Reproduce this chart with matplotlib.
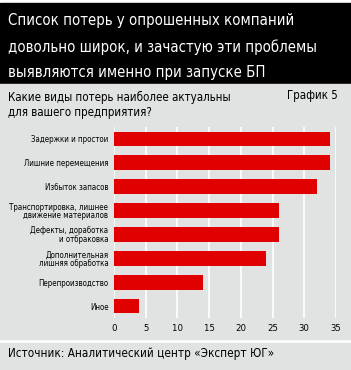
import matplotlib
matplotlib.use('Agg')
import matplotlib.pyplot as plt
from matplotlib.patches import Rectangle

plt.rcParams['font.family'] = ['DejaVu Sans']
plt.rcParams['font.stretch'] = 'condensed'

# Data
categories = ['Задержки и простои', 'Лишние перемещения', 'Избыток запасов',
              'Транспортировка, лишнее\nдвижение материалов', 'Дефекты, доработка\nи отбраковка',
              'Дополнительная\nлишняя обработка', 'Перепроизводство', 'Иное']
values = [34, 34, 32, 26, 26, 24, 14, 4]
xticks = [0, 5, 10, 15, 20, 25, 30, 35]

W, H = 351, 370
fig = plt.figure(figsize=(W / 100, H / 100), dpi=100)
fig.patch.set_facecolor('white')

def fy(py):
    return 1 - py / H

# background bands
fig.patches.append(Rectangle((0, fy(83)), 1, 80 / H, transform=fig.transFigure,
                             color='black', zorder=-1))
fig.patches.append(Rectangle((0, fy(339)), 1, 255 / H, transform=fig.transFigure,
                             color='#e1e2e2', zorder=-1))
fig.patches.append(Rectangle((0, 0), 1, 27 / H, transform=fig.transFigure,
                             color='#e1e2e2', zorder=-1))

# header
header = ['Список потерь у опрошенных компаний',
          'довольно широк, и зачастую эти проблемы',
          'выявляются именно при запуске БП']
for i, line in enumerate(header):
    fig.text(8 / W, fy(21 + 26 * i), line, color='white', fontsize=10.7,
             va='center', ha='left')

fig.text(8 / W, fy(105), 'Какие виды потерь наиболее актуальны\nдля вашего предприятия?',
         fontsize=8.3, va='center', ha='left', linespacing=1.2)
fig.text(338 / W, fy(96), 'График 5', fontsize=8.3, va='center', ha='right')
fig.text(8 / W, fy(354), 'Источник: Аналитический центр «Эксперт ЮГ»', fontsize=8.4,
         va='center', ha='left')

# chart
ax = fig.add_axes([114 / W, fy(318), (336 - 114) / W, (318 - 127) / H], zorder=2)
ax.set_facecolor('none')
y = list(range(len(categories)))
ax.barh(y, values, height=0.62, color='#e10000', zorder=3)
ax.set_xlim(0, 35)
ax.set_ylim(len(categories) - 0.5, -0.5)
ax.set_xticks(xticks)
ax.set_xticklabels([str(t) for t in xticks], fontsize=6.8)
ax.set_yticks(y)
ax.set_yticklabels(categories, fontsize=5.7, linespacing=0.95)
ax.grid(axis='x', color='white', linewidth=1.2, zorder=0)
for s in ax.spines.values():
    s.set_visible(False)
ax.tick_params(length=0, pad=4)

fig.savefig('out.png', dpi=100)
